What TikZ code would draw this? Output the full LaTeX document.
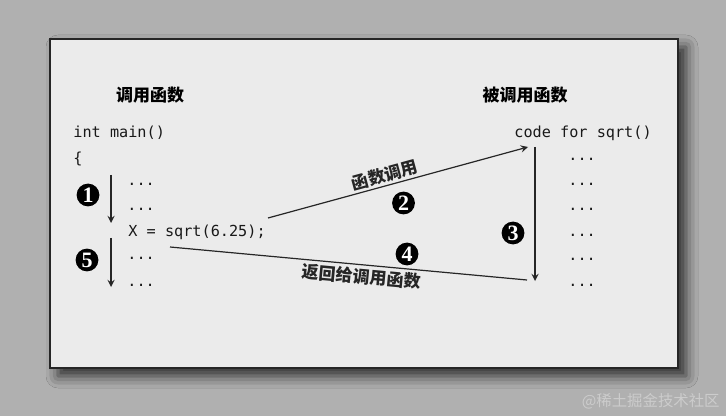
\documentclass[tikz,border=0pt]{standalone}
\usepackage{fontspec}
\setmainfont{Liberation Serif}
\setmonofont{DejaVu Sans Mono}
\newfontfamily\cjk{Noto Sans CJK SC}
\usepackage{tikz}
\usetikzlibrary{calc,positioning,shadows.blur}

\begin{document}
\begin{tikzpicture}[x=0.5pt,y=-0.5pt,>=stealth,
	every node/.style={inner sep=0pt},
	code/.style={font=\ttfamily\fontsize{7.6}{9}\selectfont,anchor=base west,text=black!90},
	title/.style={font=\cjk\bfseries\fontsize{8.5}{10}\selectfont},
	flow/.style={line width=0.6pt,black!85},
	stepmark/.style={circle,fill=black,text=white,minimum size=11.4pt,font=\bfseries\fontsize{11}{11}\selectfont}]

\fill[black!31] (0,0) rectangle (726,416);
\useasboundingbox (0,0) rectangle (726,416);
\draw[black!85,line width=1.2pt,fill=black!8,
	blur shadow={shadow xshift=4pt,shadow yshift=-4pt,shadow blur radius=6pt,shadow opacity=75}]
	(50,39) rectangle (678,368);

% caller
\node[title] (caller) at (150,95) {调用函数};
\node[code] (main)  at (73,138) {int main()};
\node[code] (brace) at (73,164) {\{};
\node[code] (dA1)   at (127,186) {...};
\node[code] (dA2)   at (127,211) {...};
\node[code] (xcall) at (128,237) {X = sqrt(6.25);};
\node[code] (dA3)   at (127,259) {...};
\node[code] (dA4)   at (127,286) {...};

% callee
\node[title] (callee) at (525,95) {被调用函数};
\node[code] (sqrt) at (514,138) {code for sqrt()};
\foreach \i/\y in {1/161,2/186,3/211,4/236,5/261,6/286}
	\node[code] (dB\i) at (568,\y) {...};

\coordinate (runA) at (111,175);
\coordinate (runB) at (111,223);
\coordinate (runC) at (111,238);
\coordinate (runD) at (111,287);
\coordinate (callS) at (268,218);
\coordinate (callE) at (528,147);
\coordinate (bodyS) at (535,147);
\coordinate (bodyE) at (535,281);
\coordinate (retS) at (170,247);
\coordinate (retE) at (527,280);

\draw[flow,->] (runA) -- (runB);
\draw[flow,->] (runC) -- (runD);
\draw[flow,->] (callS) -- node[title,sloped,above=1pt,pos=0.46] (callL) {函数调用} (callE);
\draw[flow,->] (bodyS) -- (bodyE);
\draw[flow] (retS) -- node[title,sloped,below=1.5pt,pos=0.54] (retL) {返回给调用函数} (retE);

\node[stepmark] (n1) at (88,195) {1};
\node[stepmark] (n2) at (403.5,203) {2};
\node[stepmark] (n3) at (513,233) {3};
\node[stepmark] (n4) at (407,254) {4};
\node[stepmark] (n5) at (87,260) {5};

\node[font=\cjk\fontsize{7.7}{9}\selectfont,text=white!80!black,anchor=east] (wm) at (720,401) {@稀土掘金技术社区};
\end{tikzpicture}
\end{document}
